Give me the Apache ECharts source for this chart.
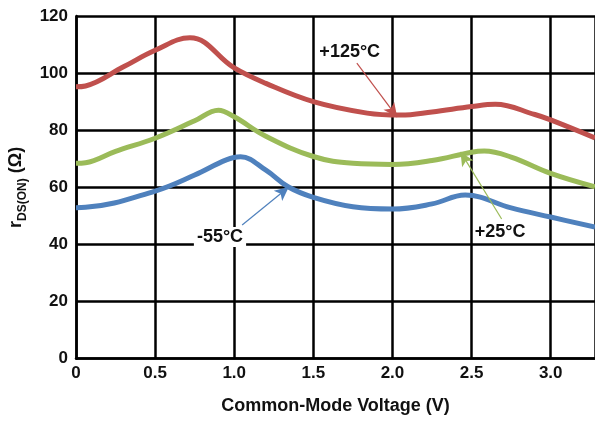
<!DOCTYPE html>
<html>
<head>
<meta charset="utf-8">
<script src="https://cdn.jsdelivr.net/npm/echarts@6/dist/echarts.min.js"></script>
<style>html,body{margin:0;padding:0;background:#fff}#c{width:595px;height:421px}</style>
</head>
<body>
<div id="c"></div>
<script>
const xTicks = [0, 0.5, 1.0, 1.5, 2.0, 2.5, 3.0];
const yTicks = [0, 20, 40, 60, 80, 100, 120];

const redV = [0, 0.06, 0.3, 0.5, 0.72, 1.0, 1.2, 1.5, 1.84, 2.05, 2.25, 2.5, 2.65, 2.9, 3.0, 3.28];
const redR = [95.2, 95.5, 102.2, 108, 112.4, 101.8, 96.4, 90, 86, 85.3, 86.4, 88.3, 89.1, 85.5, 83.6, 77.3];

const greenV = [0, 0.06, 0.25, 0.5, 0.75, 0.9, 1.0, 1.2, 1.5, 1.75, 2.0, 2.25, 2.5, 2.58, 2.75, 3.0, 3.28];
const greenR = [68.4, 68.6, 72.6, 77.2, 83.3, 87, 84.7, 77.9, 70.8, 68.4, 68, 69.4, 72.3, 72.7, 70.6, 64.9, 60.2];

const blueV = [0, 0.06, 0.5, 0.75, 0.95, 1.04, 1.2, 1.34, 1.5, 1.75, 2.0, 2.25, 2.46, 2.75, 3.0, 3.28];
const blueR = [52.9, 53, 58.7, 64.3, 69.6, 70.7, 66, 60.2, 56.5, 53.2, 52.4, 54.2, 57.3, 52.8, 49.6, 46.1];

// annotations: label position, arrow from, arrow to (data coords)
const redNote = { text: '+125°C', at: [1.73, 107.4], from: [1.775, 103.5], to: [2.03, 84.6] };
const greenNote = { text: '+25°C', at: [2.68, 44.4], from: [2.69, 48.9], to: [2.43, 72.4] };
const blueNote = { text: '-55°C', at: [0.91, 42.6], from: [1.05, 46.8], to: [1.345, 60.1] };

const RED = '#C0504D', GREEN = '#9BBB59', BLUE = '#4F81BD';
const FONT = '"Liberation Sans", Arial, sans-serif';

function pairs(xs, ys) { return xs.map((x, i) => [x, ys[i]]); }

function series(name, xs, ys, color, note, bg) {
  return {
    name, type: 'line', data: pairs(xs, ys), smooth: 0.4,
    showSymbol: false, symbol: 'none',
    lineStyle: { color, width: 5 }, itemStyle: { color },
    z: 3,
    markLine: {
      silent: true, animation: false,
      symbol: ['none', 'arrow'], symbolSize: [10, 14],
      lineStyle: { color, width: 1.2, type: 'solid' },
      label: { show: false },
      data: [[{ coord: note.from, symbol: 'none' }, { coord: note.to, symbol: 'arrow' }]]
    },
    markPoint: {
      silent: true, animation: false,
      symbol: 'circle', symbolSize: 1, itemStyle: { color: 'rgba(0,0,0,0)' },
      label: {
        show: true, position: 'inside', formatter: note.text,
        color: '#111', fontFamily: FONT, fontWeight: 'bold', fontSize: 18,
        backgroundColor: bg ? '#fff' : 'transparent', padding: [1, 3]
      },
      data: [{ coord: note.at }]
    }
  };
}

const chart = echarts.init(document.getElementById('c'), null, { renderer: 'canvas' });
chart.setOption({
  animation: false,
  backgroundColor: '#fff',
  grid: { left: 76, top: 16, right: 0, bottom: 62.3, containLabel: false, outerBoundsMode: 'none' },
  xAxis: {
    type: 'value', min: 0, max: 3.28, interval: 0.5,
    name: 'Common-Mode Voltage (V)', nameLocation: 'middle', nameGap: 38,
    nameTextStyle: { fontFamily: FONT, fontWeight: 'bold', fontSize: 18, color: '#111' },
    axisLine: { lineStyle: { color: '#000', width: 2.5 } },
    axisTick: { show: false },
    axisLabel: {
      showMaxLabel: false, margin: 6,
      fontFamily: FONT, fontWeight: 'bold', fontSize: 17, color: '#111',
      formatter: v => { const t = xTicks.find(k => Math.abs(k - v) < 1e-6); return t === undefined ? '' : (t === 0 ? '0' : t.toFixed(1)); }
    },
    splitLine: { show: true, lineStyle: { color: '#000', width: 2.5 } }
  },
  yAxis: {
    type: 'value', min: 0, max: 120, interval: 20,
    name: '{r|r}{s|DS(ON)}{r| (Ω)}', nameLocation: 'middle', nameGap: 46, nameRotate: 90,
    nameTextStyle: {
      fontFamily: FONT, fontWeight: 'bold', fontSize: 17, color: '#111',
      rich: {
        r: { fontFamily: FONT, fontWeight: 'bold', fontSize: 18, color: '#111', lineHeight: 22, verticalAlign: 'bottom', padding: [0, 0, 4, 0] },
        s: { fontFamily: FONT, fontWeight: 'bold', fontSize: 12, color: '#111', lineHeight: 22, verticalAlign: 'bottom', padding: [0, 0, 0, 0] }
      }
    },
    axisLine: { show: true, lineStyle: { color: '#000', width: 2.5 } },
    axisTick: { show: false },
    axisLabel: {
      margin: 8, fontFamily: FONT, fontWeight: 'bold', fontSize: 17, color: '#111',
      formatter: v => yTicks.includes(v) ? String(v) : ''
    },
    splitLine: { show: true, lineStyle: { color: '#000', width: 2.5 } }
  },
  series: [
    series('+125°C', redV, redR, RED, redNote, false),
    series('+25°C', greenV, greenR, GREEN, greenNote, false),
    series('-55°C', blueV, blueR, BLUE, blueNote, true)
  ]
});
</script>
</body>
</html>
